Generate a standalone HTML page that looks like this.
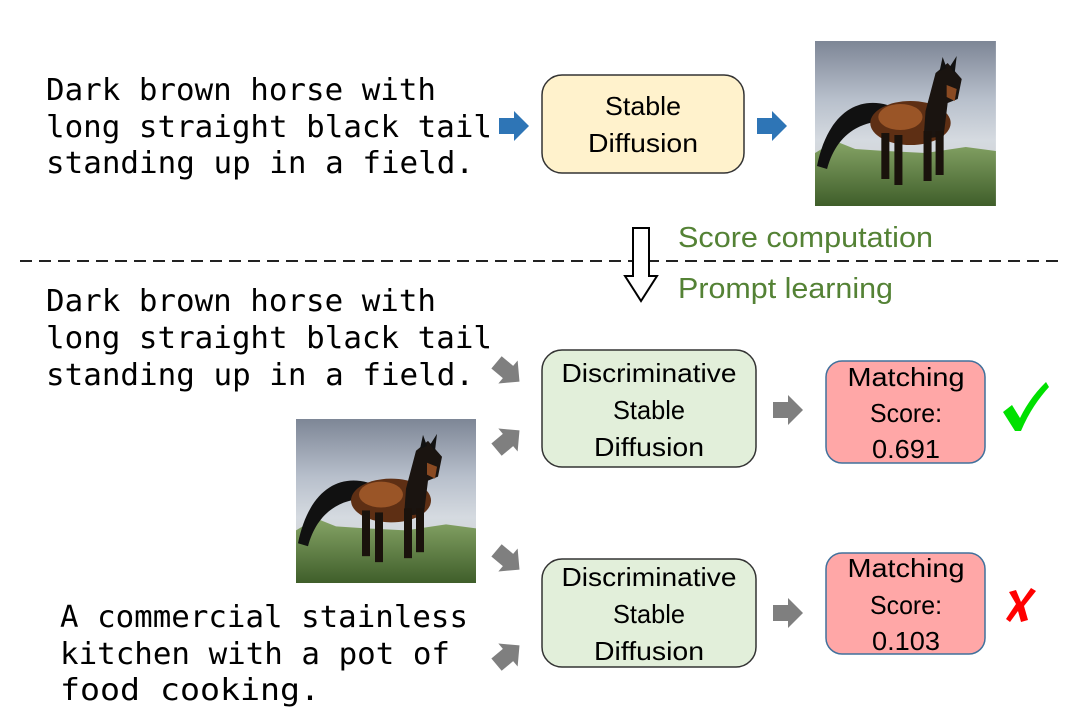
<!DOCTYPE html>
<html><head><meta charset="utf-8"><style>
html,body{margin:0;padding:0;background:#fff;}
svg{display:block;}
.mono{font-family:"DejaVu Sans Mono","Liberation Mono",monospace;font-size:30px;fill:#000;}
.sans{font-family:"Liberation Sans","DejaVu Sans",sans-serif;font-size:26px;fill:#000;}
.grn{font-family:"Liberation Sans","DejaVu Sans",sans-serif;font-size:29px;fill:#548235;}
</style></head><body>
<svg width="1080" height="727" viewBox="0 0 1080 727" xmlns="http://www.w3.org/2000/svg">
<defs>
<linearGradient id="sky" x1="0" y1="0" x2="0" y2="1">
<stop offset="0" stop-color="#7d8696"/><stop offset="0.35" stop-color="#b7bfcb"/><stop offset="0.6" stop-color="#d5dae0"/><stop offset="1" stop-color="#c9ccc8"/>
</linearGradient>
<linearGradient id="grass" x1="0" y1="0" x2="0" y2="1">
<stop offset="0" stop-color="#86a466"/><stop offset="1" stop-color="#3f5e2a"/>
</linearGradient>
<g id="horse">
<rect x="0" y="0" width="180" height="165" fill="url(#sky)"/>
<path d="M0,112 L20,100 L40,108 L70,110 L110,112 L150,106 L180,110 L180,165 L0,165 Z" fill="url(#grass)"/>
<path d="M72,64 C40,55 12,75 2,125 L12,128 C20,98 40,80 72,80 Z" fill="#111"/>
<ellipse cx="95" cy="82" rx="40" ry="22" fill="#5e2f14"/>
<ellipse cx="85" cy="76" rx="22" ry="13" fill="#9a5527"/>
<path d="M110,70 L120,32 L132,22 L146,38 L142,58 L132,62 L128,95 L108,98 Z" fill="#1a1410"/>
<path d="M124,30 L127,16 L131,27 Z M134,26 L141,15 L139,32 Z" fill="#111"/>
<path d="M131,44 L141,48 L139,60 L131,56 Z" fill="#8a4a22"/>
<rect x="66" y="92" width="8" height="46" fill="#1a120c"/>
<rect x="79" y="94" width="8" height="50" fill="#1a120c"/>
<rect x="108" y="90" width="8" height="50" fill="#1a120c"/>
<rect x="120" y="90" width="8" height="44" fill="#1a120c"/>
</g>
<path id="ba" d="M-15,-8 L0,-8 L0,-15 L15,0 L0,15 L0,8 L-15,8 Z"/>
</defs>

<text class="mono" x="46" y="100" textLength="390" lengthAdjust="spacingAndGlyphs">Dark brown horse with</text>
<text class="mono" x="46" y="137" textLength="446" lengthAdjust="spacingAndGlyphs">long straight black tail</text>
<text class="mono" x="46" y="173" textLength="428" lengthAdjust="spacingAndGlyphs">standing up in a field.</text>

<use href="#ba" transform="translate(514,126)" fill="#2e75b6"/>
<rect x="542" y="75" width="202" height="98" rx="20" fill="#fff2cc" stroke="#333" stroke-width="1.5"/>
<text class="sans" x="643" y="115" text-anchor="middle" textLength="76" lengthAdjust="spacingAndGlyphs">Stable</text>
<text class="sans" x="643" y="152" text-anchor="middle" textLength="110" lengthAdjust="spacingAndGlyphs">Diffusion</text>
<use href="#ba" transform="translate(772,126)" fill="#2e75b6"/>
<use href="#horse" transform="translate(815,41) scale(1.005,1)"/>

<line x1="20" y1="261" x2="1058" y2="261" stroke="#222" stroke-width="2" stroke-dasharray="12,7"/>
<path d="M633,228 L649,228 L649,276 L657,276 L641,301 L625,276 L633,276 Z" fill="#fff" stroke="#000" stroke-width="2"/>
<text class="grn" x="678" y="247" textLength="255" lengthAdjust="spacingAndGlyphs">Score computation</text>
<text class="grn" x="678" y="298" textLength="215" lengthAdjust="spacingAndGlyphs">Prompt learning</text>

<text class="mono" x="46" y="311" textLength="390" lengthAdjust="spacingAndGlyphs">Dark brown horse with</text>
<text class="mono" x="46" y="348" textLength="446" lengthAdjust="spacingAndGlyphs">long straight black tail</text>
<text class="mono" x="46" y="385" textLength="428" lengthAdjust="spacingAndGlyphs">standing up in a field.</text>

<use href="#ba" transform="translate(508,372) rotate(40)" fill="#7f7f7f"/>
<use href="#ba" transform="translate(508,440) rotate(-40)" fill="#7f7f7f"/>
<use href="#ba" transform="translate(508,560) rotate(40)" fill="#7f7f7f"/>
<use href="#ba" transform="translate(508,655) rotate(-40)" fill="#7f7f7f"/>

<use href="#horse" transform="translate(296,419) scale(1,0.994)"/>

<rect x="542" y="350" width="214" height="117" rx="20" fill="#e2efda" stroke="#333" stroke-width="1.5"/>
<text class="sans" x="649" y="382" text-anchor="middle" textLength="175" lengthAdjust="spacingAndGlyphs">Discriminative</text>
<text class="sans" x="649" y="419" text-anchor="middle" textLength="72" lengthAdjust="spacingAndGlyphs">Stable</text>
<text class="sans" x="649" y="456" text-anchor="middle" textLength="110" lengthAdjust="spacingAndGlyphs">Diffusion</text>
<use href="#ba" transform="translate(788,410)" fill="#7f7f7f"/>
<rect x="826" y="361" width="159" height="102" rx="16" fill="#ffa7a7" stroke="#41719c" stroke-width="1.5"/>
<text class="sans" x="906" y="386" text-anchor="middle" textLength="117" lengthAdjust="spacingAndGlyphs">Matching</text>
<text class="sans" x="906" y="422" text-anchor="middle" textLength="72" lengthAdjust="spacingAndGlyphs">Score:</text>
<text class="sans" x="906" y="458" text-anchor="middle" textLength="68" lengthAdjust="spacingAndGlyphs">0.691</text>
<path d="M1003,412 L1012,405 L1020,418 C1028,402 1036,392 1046,382 L1049,387 C1039,398 1029,412 1021,431 L1015,431 Z" fill="#00e000"/>

<rect x="542" y="559" width="214" height="108" rx="20" fill="#e2efda" stroke="#333" stroke-width="1.5"/>
<text class="sans" x="649" y="586" text-anchor="middle" textLength="175" lengthAdjust="spacingAndGlyphs">Discriminative</text>
<text class="sans" x="649" y="623" text-anchor="middle" textLength="72" lengthAdjust="spacingAndGlyphs">Stable</text>
<text class="sans" x="649" y="660" text-anchor="middle" textLength="110" lengthAdjust="spacingAndGlyphs">Diffusion</text>
<use href="#ba" transform="translate(788,613)" fill="#7f7f7f"/>
<rect x="826" y="553" width="159" height="101" rx="16" fill="#ffa7a7" stroke="#41719c" stroke-width="1.5"/>
<text class="sans" x="906" y="577" text-anchor="middle" textLength="117" lengthAdjust="spacingAndGlyphs">Matching</text>
<text class="sans" x="906" y="614" text-anchor="middle" textLength="72" lengthAdjust="spacingAndGlyphs">Score:</text>
<text class="sans" x="906" y="650" text-anchor="middle" textLength="68" lengthAdjust="spacingAndGlyphs">0.103</text>
<path d="M1009,592 L1016,590 L1021,602 L1031,588 L1036,591 L1024,606 L1028,620 L1021,622 L1018,611 L1010,622 L1006,619 L1016,604 Z" fill="#ff0000"/>

<text class="mono" x="60" y="627" textLength="408" lengthAdjust="spacingAndGlyphs">A commercial stainless</text>
<text class="mono" x="60" y="664" textLength="390" lengthAdjust="spacingAndGlyphs">kitchen with a pot of</text>
<text class="mono" x="60" y="700" textLength="260" lengthAdjust="spacingAndGlyphs">food cooking.</text>
</svg>
</body></html>
